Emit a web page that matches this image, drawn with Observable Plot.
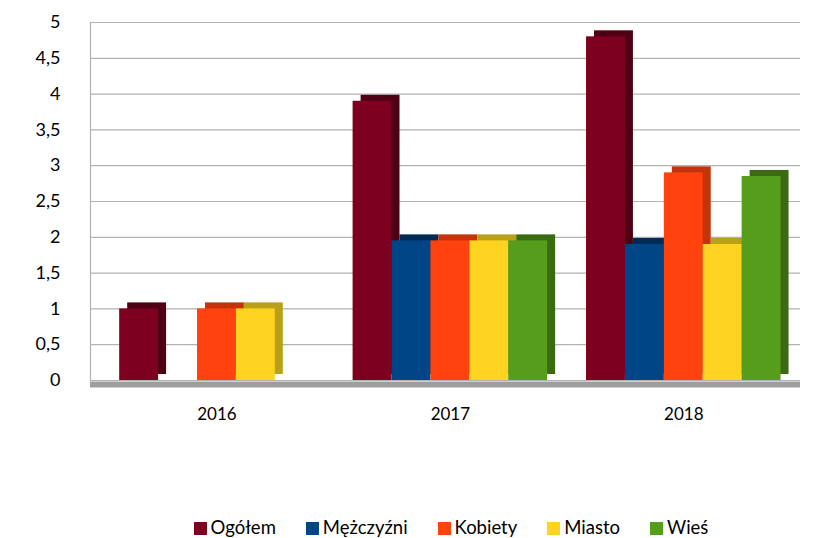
<!DOCTYPE html>
<html>
<head>
<meta charset="utf-8">
<script src="https://cdn.jsdelivr.net/npm/d3@7"></script>
<script src="https://cdn.jsdelivr.net/npm/@observablehq/plot@0.6"></script>
<style>
  body { margin: 0; background: #fff; font-family: Lato, "Open Sans", sans-serif; }
  #chart { width: 817px; }
  .legend { display: flex; justify-content: center; gap: 30px; font-size: 18.5px; color: #000; height: 34px; align-items: flex-end; padding-left: 85px; }
  .legend span.sw { display: inline-block; width: 13px; height: 13px; margin-right: 4px; vertical-align: -1px; }
</style>
</head>
<body>
<div id="chart"></div>
<script>
const years = ["2016", "2017", "2018"];
const series = ["Ogółem", "Mężczyźni", "Kobiety", "Miasto", "Wieś"];
const values2016 = [1.0, 0, 1.0, 1.0, 0];
const values2017 = [3.9, 1.95, 1.95, 1.95, 1.95];
const values2018 = [4.8, 1.9, 2.9, 1.9, 2.85];
const colors = ["#7e0021", "#004586", "#ff420e", "#ffd320", "#579d1c"];
const sideColors = ["#4f0014", "#002b55", "#c4330b", "#b8a018", "#3a6a12"];
const yTicks = [0, 0.5, 1, 1.5, 2, 2.5, 3, 3.5, 4, 4.5, 5];

const allValues = [values2016, values2017, values2018];
const groupPitch = 6;
const data = [];
years.forEach((yr, gi) => {
  series.forEach((s, si) => {
    data.push({year: yr, series: s, si, value: allValues[gi][si], x1: gi * groupPitch + si, x2: gi * groupPitch + si + 1});
  });
});
const labels = years.map((yr, gi) => ({year: yr, x: gi * groupPitch + series.length / 2}));
const xDomain = [-0.75, 17.5];

const sideMarks = series.map((s, si) =>
  Plot.rectY(data.filter(d => d.si === si && d.value > 0), {x1: "x1", x2: "x2", y: "value", fill: sideColors[si], dx: 8, dy: -6})
);

const chart = Plot.plot({
  width: 817,
  height: 504,
  marginTop: 22,
  marginLeft: 90,
  marginRight: 17,
  marginBottom: 124,
  style: {fontFamily: "Lato, 'Open Sans', sans-serif", fontSize: "18px", color: "#000", background: "#fff"},
  x: {domain: xDomain, axis: null},
  y: {domain: [0, 5], ticks: yTicks, tickFormat: d => String(d).replace(".", ","), tickSize: 0, tickPadding: 30, label: null},
  color: {domain: series, range: colors},
  marks: [
    Plot.ruleY(yTicks, {y: d => d, stroke: "#b3b3b3", strokeWidth: 1.2}),
    Plot.ruleX([xDomain[0]], {stroke: "#b3b3b3", strokeWidth: 1.2}),
    Plot.ruleY([0], {x1: xDomain[0], x2: xDomain[1], stroke: "#9e9e9e", strokeWidth: 6, dy: 4}),
    ...sideMarks,
    Plot.rectY(data, {x1: "x1", x2: "x2", y: "value", fill: "series"}),
    Plot.text(labels, {x: "x", y: 0, text: "year", dy: 34, fontSize: 17, fill: "#000"})
  ]
});
const root = document.getElementById("chart");
root.appendChild(chart);
const legend = document.createElement("div");
legend.className = "legend";
series.forEach((s, i) => {
  const item = document.createElement("span");
  item.innerHTML = `<span class="sw" style="background:${colors[i]}"></span>${s}`;
  legend.appendChild(item);
});
root.appendChild(legend);
</script>
</body>
</html>
